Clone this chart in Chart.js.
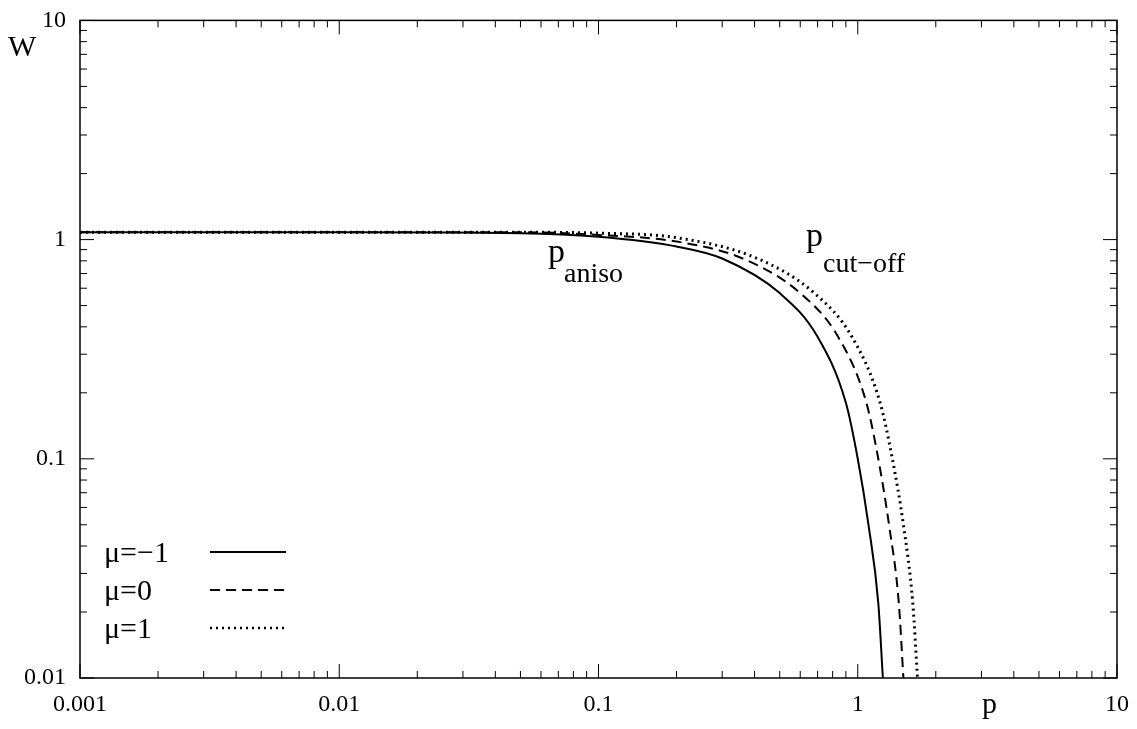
<!DOCTYPE html>
<html>
<head>
<meta charset="utf-8">
<script src="https://cdn.jsdelivr.net/npm/chart.js@4/dist/chart.umd.min.js"></script>
<style>
  html, body { margin: 0; padding: 0; background: #fff; }
  #wrap { width: 1137px; height: 729px; }
</style>
</head>
<body>
<div id="wrap"><canvas id="c"></canvas></div>
<script>
// ── Data ─────────────────────────────────────────────────────────────────────
const MU_M1_P = [0.001, 0.01, 0.05, 0.1, 0.2, 0.3, 0.5, 0.7, 0.9, 1.0, 1.1, 1.2, 1.25];
const MU_M1_W = [1.08, 1.08, 1.07, 1.03, 0.93, 0.82, 0.57, 0.36, 0.18, 0.1, 0.05, 0.022, 0.01];

const MU_0_P = [0.001, 0.01, 0.05, 0.1, 0.2, 0.36, 0.6, 0.84, 1.08, 1.2, 1.32, 1.44, 1.5];
const MU_0_W = [1.08, 1.08, 1.08, 1.05, 0.98, 0.82, 0.57, 0.36, 0.18, 0.1, 0.05, 0.022, 0.01];

const MU_1_P = [0.001, 0.01, 0.05, 0.1, 0.2, 0.41, 0.68, 0.95, 1.22, 1.36, 1.5, 1.63, 1.7];
const MU_1_W = [1.08, 1.08, 1.08, 1.07, 1.02, 0.82, 0.57, 0.36, 0.18, 0.1, 0.05, 0.022, 0.01];

const X_TICKS = [0.001, 0.01, 0.1, 1, 10];
const X_LABELS = ['0.001', '0.01', '0.1', '1', '10'];
const Y_TICKS = [0.01, 0.1, 1, 10];
const Y_LABELS = ['0.01', '0.1', '1', '10'];

const FONT = '"Liberation Serif", "DejaVu Serif", serif';

const pts = (xs, ys) => xs.map((x, i) => ({ x, y: ys[i] }));

function makeDataset(label, xs, ys, dash, width) {
    return {
        label,
        data: pts(xs, ys),
        borderColor: '#000',
        borderWidth: width,
        borderDash: dash,
        pointRadius: 0,
        cubicInterpolationMode: 'monotone',
    };
}

// ticks drawn inside on all four sides, plus frame, labels and legend
const decor = {
    id: 'decor',
    afterDraw(chart) {
        const { ctx, chartArea: a, scales: { x, y } } = chart;
        ctx.save();
        ctx.strokeStyle = '#000';
        ctx.lineWidth = 1.5;
        ctx.strokeRect(a.left, a.top, a.right - a.left, a.bottom - a.top);
        ctx.lineWidth = 1;
        for (let d = -3; d <= 1; d++) {
            for (let m = 1; m <= 9; m++) {
                const v = m * Math.pow(10, d);
                if (v > 10.0001) continue;
                const px = x.getPixelForValue(v);
                const len = m === 1 ? 14 : 7;
                ctx.beginPath();
                ctx.moveTo(px, a.bottom); ctx.lineTo(px, a.bottom - len);
                ctx.moveTo(px, a.top); ctx.lineTo(px, a.top + len);
                ctx.stroke();
            }
        }
        for (let d = -2; d <= 1; d++) {
            for (let m = 1; m <= 9; m++) {
                const v = m * Math.pow(10, d);
                if (v > 10.0001) continue;
                const py = y.getPixelForValue(v);
                const len = m === 1 ? 14 : 7;
                ctx.beginPath();
                ctx.moveTo(a.left, py); ctx.lineTo(a.left + len, py);
                ctx.moveTo(a.right, py); ctx.lineTo(a.right - len, py);
                ctx.stroke();
            }
        }

        ctx.fillStyle = '#000';
        ctx.textBaseline = 'alphabetic';
        ctx.textAlign = 'left';
        ctx.font = `30px ${FONT}`;
        ctx.fillText('W', 8, 56);
        ctx.fillText('p', 982, 713);

        // annotations
        ctx.font = `34px ${FONT}`;
        ctx.fillText('p', 548, 262);
        ctx.font = `28px ${FONT}`;
        ctx.fillText('aniso', 564, 282);
        ctx.font = `34px ${FONT}`;
        ctx.fillText('p', 806, 246);
        ctx.font = `28px ${FONT}`;
        ctx.fillText('cut\u2212off', 823, 272);

        // legend
        const rows = [['\u03bc=\u22121', []], ['\u03bc=0', [10, 6]], ['\u03bc=1', [2, 4]]];
        rows.forEach(([t, dash], i) => {
            const by = 562 + i * 38;
            ctx.font = `30px ${FONT}`;
            ctx.fillText(t, 104, by);
            ctx.setLineDash(dash);
            ctx.lineWidth = i === 2 ? 2.5 : 2;
            ctx.beginPath();
            ctx.moveTo(210, by - 10); ctx.lineTo(286, by - 10);
            ctx.stroke();
        });
        ctx.restore();
    },
};

new Chart(document.getElementById('c'), {
    type: 'line',
    data: {
        datasets: [
            makeDataset('\u03bc=-1', MU_M1_P, MU_M1_W, [], 2),
            makeDataset('\u03bc=0', MU_0_P, MU_0_W, [10, 6], 2),
            makeDataset('\u03bc=1', MU_1_P, MU_1_W, [2, 4], 3),
        ],
    },
    options: {
        responsive: true,
        maintainAspectRatio: false,
        animation: false,
        layout: { padding: { top: -5, right: 20, left: 0, bottom: 0 } },
        plugins: { legend: { display: false }, tooltip: { enabled: false } },
        scales: {
            x: {
                type: 'logarithmic', min: 0.001, max: 10,
                afterBuildTicks: s => { s.ticks = X_TICKS.map(v => ({ value: v })); },
                afterFit: s => { s.height = 51; },
                ticks: {
                    color: '#000', font: { family: FONT, size: 24 }, maxRotation: 0,
                    autoSkip: false, padding: 4,
                    callback: (v) => X_LABELS[X_TICKS.indexOf(v)] ?? '',
                },
                grid: { display: false },
                border: { display: false },
            },
            y: {
                type: 'logarithmic', min: 0.01, max: 10,
                afterBuildTicks: s => { s.ticks = Y_TICKS.map(v => ({ value: v })); },
                afterFit: s => { s.width = 80; },
                ticks: {
                    color: '#000', font: { family: FONT, size: 24 }, autoSkip: false, padding: 6,
                    callback: (v) => Y_LABELS[Y_TICKS.indexOf(v)] ?? '',
                },
                grid: { display: false },
                border: { display: false },
            },
        },
    },
    plugins: [decor],
});
</script>
</body>
</html>
